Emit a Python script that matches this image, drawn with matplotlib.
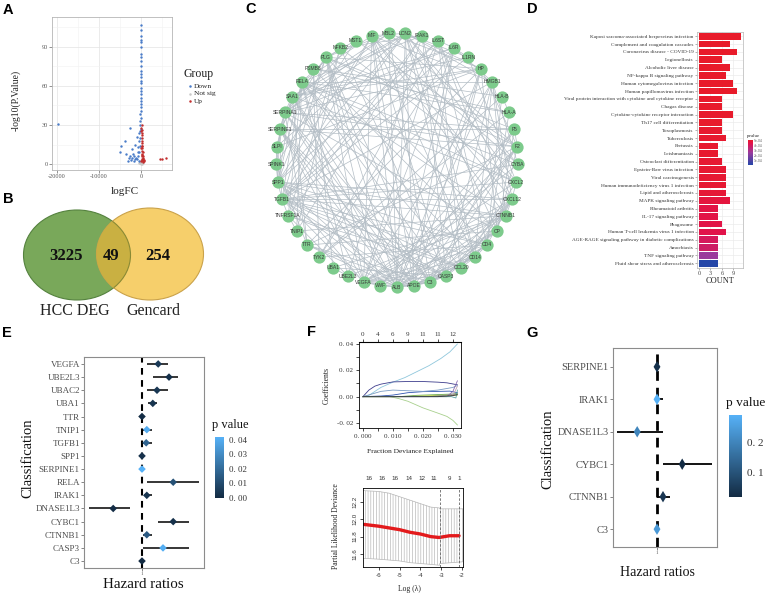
import numpy as np
import matplotlib
matplotlib.use('Agg')
import matplotlib.pyplot as plt
from matplotlib.patches import Ellipse
from matplotlib.colors import LinearSegmentedColormap, Normalize
from matplotlib.collections import LineCollection
import matplotlib.cm as cm

plt.rcParams['hatch.linewidth'] = 0.4
W, H = 767, 596
SERIF = ['Liberation Serif', 'DejaVu Serif']
SANS = ['Liberation Sans', 'DejaVu Sans']

# ---------------- data: A (volcano) ----------------
down_logfc = [-19700, -2500, -3700, -4700, -5000, -3500, -2100, -1700, -1300, -950, -2100, -2900,
              -1700, -1100, -800, -700, -550, -300, -300, -150, -100, -100, -80, -80, -60, -60,
              -50, -50, -40, -40, -30, -30, -20, -20, -200, -400, -600, -900, -1400, -2300, -2600,
              -3100, -250, -150, -100, -70, -60, -40, -90, -30, -100, -30, -70, -30, -60, -500, -350, -1900]
down_logp = [31, 28, 18, 13.5, 9, 7.5, 11.5, 6.4, 15, 20.5, 4.4, 4.4,
             2.6, 5, 9, 12.8, 23.6, 25.6, 33, 38.5, 43.6, 48.7, 53.8, 58.5, 62, 66.7,
             71.8, 75.6, 79.5, 84.6, 89.7, 93.6, 98.7, 107, 30, 18, 6, 3.5, 4, 3, 6,
             2, 14, 20, 27, 35, 41, 46, 51, 56, 64, 69, 82, 95, 103, 2, 9, 8]
up_logfc = [100, 150, 200, 250, 300, 120, 180, 220, 260, 140, 200, 160, 240, 120, 300, 400, 500,
            600, 350, 450, 700, 250, 380, 180, 100, 320, 550, 800, 4570, 5100, 5900]
up_logp = [2, 4, 6, 8, 10, 12, 14, 16, 18, 20, 22, 24, 26, 28, 3, 5, 2,
           4, 7, 9, 3, 12, 1.5, 30, 25, 14, 6, 2.5, 3.8, 4.1, 4.6]
ns_logfc = [-300, -150, 0, 100, 200, -500, 300, -50, 50, 400, -200, 150]
ns_logp = [1, 0.5, 0.3, 0.8, 1.2, 0.4, 0.6, 2, 1.5, 0.9, 2.5, 0.2]
volcano_xticks = [-20000, -10000, 0]
volcano_xticklabels = ['-20000', '-10000', '0']
volcano_yticks = [0, 30, 60, 90]
group_names = ['Down', 'Not sig', 'Up']
group_colors = ['#4a7cc9', '#c8c8c8', '#c22f2f']

# ---------------- data: B (venn) ----------------
venn_counts = ['3225', '49', '254']
venn_sets = ['HCC DEG', 'Gencard']

# ---------------- data: C (network) ----------------
net_nodes = ['ALB', 'APOE', 'C3', 'CASP3', 'CCL20', 'CD14', 'CD4', 'CP', 'CTNNB1', 'CXCL12', 'CXCL2',
             'CYBA', 'F2', 'F5', 'HLA-A', 'HLA-B', 'HMGB1', 'HP', 'IL1RN', 'IL6R', 'IL6ST', 'IRAK1',
             'LCN2', 'MBL2', 'MIF', 'MST1', 'NFKB2', 'PLG', 'PSMB8', 'RELA', 'SAA1', 'SERPINA1',
             'SERPINE1', 'SLPI', 'SPINK1', 'SPP1', 'TGFB1', 'TNFRSF1A', 'TNIP1', 'TTR', 'TYK2',
             'UBA1', 'UBE2L3', 'VEGFA', 'VWF']
net_edges = {
    'ALB': 'APOE C3 CASP3 CD14 CP CXCL12 F2 F5 HP LCN2 MBL2 PLG SAA1 SERPINA1 SERPINE1 SPP1 TGFB1 TTR VEGFA VWF HMGB1 IL6R CTNNB1 MIF',
    'APOE': 'C3 CASP3 CD14 CP HP IL6R LCN2 MIF PLG SAA1 SERPINA1 SERPINE1 TGFB1 TTR VEGFA F2 CD4',
    'C3': 'CASP3 CD14 CP CXCL12 F2 F5 HP MBL2 PLG SAA1 SERPINA1 SERPINE1 TTR VWF CD4',
    'CASP3': 'CTNNB1 CXCL12 HMGB1 MIF RELA SPP1 TGFB1 TNFRSF1A VEGFA IRAK1 NFKB2 CD4 UBA1',
    'CCL20': 'CD14 CXCL12 CXCL2 IL6ST RELA TGFB1 VEGFA LCN2 SPP1 TNFRSF1A',
    'CD14': 'CD4 CXCL12 HMGB1 IRAK1 LCN2 MIF RELA TGFB1 VEGFA',
    'CD4': 'CXCL12 HLA-A HLA-B IL6ST SPP1 TGFB1 VEGFA TYK2 PSMB8',
    'CP': 'F2 F5 HP PLG SERPINA1 TTR VWF LCN2',
    'CTNNB1': 'CXCL12 HMGB1 RELA SPP1 TGFB1 VEGFA MIF TNIP1 UBE2L3 UBA1 IL6ST',
    'CXCL12': 'CXCL2 HMGB1 MIF SPP1 TGFB1 VEGFA IL6ST',
    'CXCL2': 'IL1RN LCN2 RELA SAA1 TGFB1 VEGFA NFKB2',
    'CYBA': 'HMGB1 RELA TGFB1 VEGFA MIF LCN2',
    'F2': 'F5 HP PLG SERPINA1 SERPINE1 VWF MBL2 TTR',
    'F5': 'PLG SERPINE1 VWF SERPINA1',
    'HLA-A': 'HLA-B PSMB8 TYK2 RELA',
    'HLA-B': 'PSMB8 TYK2',
    'HMGB1': 'MIF RELA TGFB1 VEGFA IL6R LCN2',
    'HP': 'LCN2 MBL2 PLG SAA1 SERPINA1 TTR SLPI',
    'IL1RN': 'IL6R LCN2 SAA1 TGFB1',
    'IL6R': 'IL6ST TYK2 SERPINA1 SAA1 TGFB1 VEGFA',
    'IL6ST': 'TYK2 SPP1 TGFB1 VEGFA',
    'IRAK1': 'NFKB2 RELA TNIP1 TNFRSF1A UBE2L3',
    'LCN2': 'MIF SAA1 SERPINA1 SLPI SPP1 TGFB1',
    'MBL2': 'PLG SERPINA1 SAA1',
    'MIF': 'RELA TGFB1 VEGFA SPP1',
    'MST1': 'PLG SPINK1 SERPINA1 F2',
    'NFKB2': 'RELA TNFRSF1A TNIP1',
    'PLG': 'SERPINA1 SERPINE1 SPP1 TGFB1 VEGFA VWF',
    'PSMB8': 'TYK2 UBA1',
    'RELA': 'TGFB1 TNFRSF1A TNIP1 VEGFA UBE2L3 SPP1',
    'SAA1': 'SERPINA1 SLPI SPP1 TTR',
    'SERPINA1': 'SERPINE1 SLPI SPINK1 TTR',
    'SERPINE1': 'SPP1 TGFB1 VEGFA VWF',
    'SLPI': 'SPINK1 SPP1',
    'SPINK1': 'SPP1 TTR',
    'SPP1': 'TGFB1 VEGFA',
    'TGFB1': 'VEGFA TNFRSF1A',
    'TNFRSF1A': 'TNIP1 UBE2L3',
    'UBA1': 'UBE2L3',
    'VEGFA': 'VWF',
}

# ---------------- data: D (KEGG bars) ----------------
kegg_terms = ['Kaposi sarcoma-associated herpesvirus infection', 'Complement and coagulation cascades',
              'Coronavirus disease - COVID-19', 'Legionellosis', 'Alcoholic liver disease',
              'NF-kappa B signaling pathway', 'Human cytomegalovirus infection',
              'Human papillomavirus infection',
              'Viral protein interaction with cytokine and cytokine receptor', 'Chagas disease',
              'Cytokine-cytokine receptor interaction', 'Th17 cell differentiation', 'Toxoplasmosis',
              'Tuberculosis', 'Pertussis', 'Leishmaniasis', 'Osteoclast differentiation',
              'Epstein-Barr virus infection', 'Viral carcinogenesis',
              'Human immunodeficiency virus 1 infection', 'Lipid and atherosclerosis',
              'MAPK signaling pathway', 'Rheumatoid arthritis', 'IL-17 signaling pathway', 'Phagosome',
              'Human T-cell leukemia virus 1 infection',
              'AGE-RAGE signaling pathway in diabetic complications', 'Amoebiasis',
              'TNF signaling pathway', 'Fluid shear stress and atherosclerosis']
kegg_count = [11, 8, 10, 6, 8, 7, 9, 10, 6, 6, 9, 6, 6, 7, 5, 5, 6, 7, 7, 7, 7, 8, 5, 5, 6, 7, 5, 5, 5, 5]
kegg_pvalue_e4 = [5.0, 5.0, 5.0, 5.0, 5.0, 5.0, 5.0, 5.0, 4.95, 4.95, 4.95, 4.95, 4.9, 4.9, 4.9,
                  4.9, 4.85, 4.85, 4.8, 4.8, 4.75, 4.6, 4.45, 4.4, 4.4, 4.35, 4.0, 3.8, 2.6, 0.2]
kegg_xticks = [0, 3, 6, 9]
kegg_cbar_labels = ['1e-04', '2e-04', '3e-04', '4e-04', '5e-04']

# ---------------- data: E (univariate cox) ----------------
e_genes = ['VEGFA', 'UBE2L3', 'UBAC2', 'UBA1', 'TTR', 'TNIP1', 'TGFB1', 'SPP1', 'SERPINE1', 'RELA',
           'IRAK1', 'DNASE1L3', 'CYBC1', 'CTNNB1', 'CASP3', 'C3']
e_hr = [1.27, 1.45, 1.25, 1.18, 1.00, 1.08, 1.07, 1.00, 1.00, 1.52, 1.08, 0.52, 1.52, 1.08, 1.35, 1.00]
e_lo = [1.08, 1.18, 1.08, 1.10, 0.99, 1.02, 1.01, 0.99, 0.99, 1.08, 1.03, 0.12, 1.27, 1.02, 1.01, 0.99]
e_hi = [1.43, 1.60, 1.43, 1.25, 1.02, 1.17, 1.17, 1.01, 1.01, 1.95, 1.17, 0.80, 1.78, 1.17, 1.78, 1.01]
e_p = [0.005, 0.002, 0.004, 0.003, 0.001, 0.040, 0.018, 0.002, 0.042, 0.012, 0.003, 0.001, 0.002,
       0.015, 0.041, 0.0002]
e_cbar_ticks = [0.0, 0.01, 0.02, 0.03, 0.04]
e_cbar_labels = ['0. 00', '0. 01', '0. 02', '0. 03', '0. 04']

# ---------------- data: F (LASSO) ----------------
coef_paths = [
    ([0, 0.002, 0.004, 0.006, 0.008, 0.01, 0.014, 0.018, 0.022, 0.026, 0.029, 0.0315],
     [0, 0.001, 0.004, 0.007, 0.009, 0.011, 0.0145, 0.019, 0.0235, 0.029, 0.034, 0.040], '#8fc7dc'),
    ([0, 0.002, 0.004, 0.006, 0.01, 0.015, 0.02, 0.025, 0.028, 0.0315],
     [0, 0.005, 0.008, 0.0095, 0.0112, 0.0115, 0.0115, 0.011, 0.0105, 0.009], '#3c3c8c'),
    ([0, 0.009, 0.012, 0.015, 0.02, 0.025, 0.028, 0.03, 0.0315],
     [0, 0, -0.0015, -0.0035, -0.0085, -0.0125, -0.015, -0.018, -0.0215], '#a8d08d'),
    ([0, 0.006, 0.01, 0.015, 0.02, 0.025, 0.029, 0.0315],
     [0, 0.0005, 0.0012, 0.003, 0.0038, 0.004, 0.0042, 0.003], '#2f54b0'),
    ([0, 0.003, 0.006, 0.01, 0.015, 0.02, 0.025, 0.03, 0.0315],
     [0, 0.002, 0.004, 0.005, 0.0045, 0.004, 0.005, 0.007, 0.0085], '#7a9cc4'),
    ([0, 0.012, 0.018, 0.024, 0.03, 0.0315], [0, 0, 0.001, 0.0015, 0.002, 0.0025], '#6aa84f'),
    ([0, 0.014, 0.02, 0.026, 0.0315], [0, 0, 0.0005, 0.001, 0.0012], '#b5cf3a'),
    ([0, 0.022, 0.027, 0.0315], [0, 0, 0.001, 0.002], '#888888'),
    ([0, 0.028, 0.03, 0.0315], [0, 0, 0.004, 0.012], '#8a6bb0'),
    ([0, 0.029, 0.0305, 0.0315], [0, 0, 0.003, 0.008], '#c0a0b0'),
    ([0, 0.0295, 0.031, 0.0315], [0, 0, -0.001, 0.005], '#5aa0a0'),
    ([0, 0.025, 0.03, 0.0315], [0, 0, 0.0008, 0.0015], '#333333'),
]
coef_xticks = [0.0, 0.01, 0.02, 0.03]
coef_xticklabels = ['0. 000', '0. 010', '0. 020', '0. 030']
coef_yticks = [-0.02, 0.0, 0.02, 0.04]
coef_yticklabels = ['-0. 02', '0. 00', '0. 02', '0. 04']
coef_df_pos = [0, 0.005, 0.01, 0.015, 0.02, 0.025, 0.03]
coef_df_labels = ['0', '4', '6', '9', '11', '11', '12']

cv_lambda = [-6.7, -6.0, -5.5, -5.0, -4.5, -4.0, -3.5, -3.1, -2.6, -2.14]
cv_deviance = [11.94, 11.92, 11.90, 11.88, 11.85, 11.83, 11.80, 11.79, 11.81, 11.81]
band_lambda = [-6.76, -6.0, -5.5, -5.0, -4.5, -4.0, -3.5, -3.08, -3.07, -2.5, -1.95]
band_upper = [12.33, 12.32, 12.30, 12.26, 12.22, 12.18, 12.14, 12.13, 12.12, 12.12, 12.12]
band_lower = [11.55, 11.54, 11.53, 11.52, 11.50, 11.49, 11.48, 11.47, 11.49, 11.50, 11.51]
lambda_min, lambda_1se = -3.08, -2.14
cv_nz_pos = [-6.48, -5.86, -5.24, -4.57, -3.9, -3.38, -2.62, -2.14]
cv_nz_labels = ['16', '16', '16', '14', '12', '11', '9', '1']
cv_xticks = [-6, -5, -4, -3, -2]
cv_yticks = [11.6, 11.8, 12.0, 12.2]

# ---------------- data: G (multivariate cox) ----------------
g_genes = ['SERPINE1', 'IRAK1', 'DNASE1L3', 'CYBC1', 'CTNNB1', 'C3']
g_hr = [1.00, 1.00, 0.67, 1.42, 1.10, 1.00]
g_lo = [0.97, 0.97, 0.33, 1.10, 1.00, 0.99]
g_hi = [1.03, 1.10, 1.10, 1.92, 1.22, 1.01]
g_p = [0.03, 0.29, 0.20, 0.017, 0.04, 0.24]
g_cbar_ticks = [0.1, 0.2]
g_cbar_labels = ['0. 1', '0. 2']

# =====================================================
fig = plt.figure(figsize=(W / 100, H / 100), dpi=100)
fig.patch.set_facecolor('white')


def add_ax(l, t, r, b):
    return fig.add_axes([l / W, 1 - b / H, (r - l) / W, (b - t) / H])


gg_low, gg_high = '#132B43', '#56B1F7'
gg_cmap = LinearSegmentedColormap.from_list('gg', [gg_low, gg_high])

# ---------------- A ----------------
axA = add_ax(52, 17, 172, 170)
axA.scatter(ns_logfc, ns_logp, s=3, c=group_colors[1], lw=0, zorder=3)
axA.scatter(down_logfc, down_logp, s=3, c=group_colors[0], lw=0, zorder=3)
axA.scatter(up_logfc, up_logp, s=3, c=group_colors[2], lw=0, zorder=3)
axA.set_xlim(-21200, 7400)
axA.set_ylim(-4.6, 113)
axA.set_xticks(volcano_xticks)
axA.set_xticklabels(volcano_xticklabels)
axA.set_xticks([-15000, -5000, 5000], minor=True)
axA.set_yticks(volcano_yticks)
axA.set_yticks([15, 45, 75, 105], minor=True)
axA.grid(which='major', color='#e3e3e3', lw=0.5)
axA.grid(which='minor', color='#f2f2f2', lw=0.4)
axA.set_axisbelow(True)
for s in axA.spines.values():
    s.set_color('#b5b5b5')
    s.set_linewidth(0.6)
axA.tick_params(which='major', length=2, width=0.5, color='#666', labelsize=4.5, labelcolor='#555', pad=1)
axA.tick_params(which='minor', length=0)
for lab in axA.get_xticklabels() + axA.get_yticklabels():
    lab.set_family(SERIF)

# ---------------- B ----------------
axB = add_ax(0, 195, 230, 330)
axB.set_xlim(0, 230)
axB.set_ylim(330, 195)
axB.axis('off')
g_ell = Ellipse((77, 255), 107, 90, facecolor='#79a85a', edgecolor='#55823f', lw=0.8, zorder=1)
y_ell = Ellipse((150, 254), 107, 92, facecolor='#f6cf6b', edgecolor='#caa24a', lw=0.8, zorder=2)
axB.add_patch(g_ell)
axB.add_patch(y_ell)
ov_ell = Ellipse((77, 255), 107, 90, facecolor='#c9b042', edgecolor='#8a8a35', lw=0.8, zorder=3)
axB.add_patch(ov_ell)
ov_ell.set_clip_path(y_ell)
for (x, y), t in zip([(66, 256), (111, 256), (158, 256)], venn_counts):
    axB.text(x, y, t, ha='center', va='center', fontsize=12, fontweight='bold', family=SERIF,
             color='#111', zorder=5)
for x, t in zip([75, 153], venn_sets):
    axB.text(x, 311, t, ha='center', va='center', fontsize=11.5, family=SERIF, color='#222')

# ---------------- C ----------------
axC = add_ax(255, 20, 540, 300)
axC.set_xlim(255, 540)
axC.set_ylim(300, 20)
axC.axis('off')
n = len(net_nodes)
ang = np.deg2rad(-90 + 360.0 / n * np.arange(n))
cx, cy, rx, ry = 397, 160, 121, 127
px = cx + rx * np.cos(ang)
py = cy - ry * np.sin(ang)
pos = {nm: (px[i], py[i]) for i, nm in enumerate(net_nodes)}
segs = []
for a, nb in net_edges.items():
    for b in nb.split():
        segs.append([pos[a], pos[b]])
axC.add_collection(LineCollection(segs, colors='#b3bdc5', linewidths=0.5, zorder=1))
axC.scatter(px, py, s=78, c='#7dcb8c', lw=0, zorder=2)
for i, nm in enumerate(net_nodes):
    axC.text(px[i], py[i], nm, ha='center', va='center', fontsize=3.6, color='#3a3a3a',
             family=SANS, zorder=3)

# ---------------- D ----------------
axD = add_ax(697, 32, 743, 268)
d_cmap = LinearSegmentedColormap.from_list('d', [(0, '#2547a8'), (0.5, '#9b3a9c'),
                                                 (0.85, '#e0124e'), (1, '#e81b2a')])
d_norm = Normalize(min(kegg_pvalue_e4), max(kegg_pvalue_e4))
ypos = np.arange(len(kegg_terms))
axD.barh(ypos, kegg_count, height=0.85, color=d_cmap(d_norm(kegg_pvalue_e4)), zorder=3)
axD.set_ylim(len(kegg_terms) - 0.4, -0.55)
axD.set_xlim(-0.55, 11.55)
axD.set_yticks(ypos)
axD.set_yticklabels(kegg_terms, fontsize=3.8, family=SERIF, color='#333')
axD.set_xticks(kegg_xticks)
axD.set_xticklabels([str(v) for v in kegg_xticks], fontsize=4.5, family=SERIF, color='#444')
axD.tick_params(length=1.5, width=0.4, pad=1, color='#777')
axD.grid(color='#ebebeb', lw=0.5)
axD.set_axisbelow(True)
for s in axD.spines.values():
    s.set_color('#b5b5b5')
    s.set_linewidth(0.5)
caxD = add_ax(748, 140, 753, 165)
cbD = fig.colorbar(cm.ScalarMappable(norm=d_norm, cmap=d_cmap), cax=caxD)
cbD.outline.set_visible(False)
cbD.set_ticks(np.linspace(1.0, 5.0, 5))
cbD.set_ticklabels(kegg_cbar_labels)
caxD.tick_params(labelsize=2.2, length=0, pad=0.8, labelcolor='#555')

# ---------------- E ----------------
axE = add_ax(84, 357, 204, 568)
ye = np.arange(len(e_genes))
axE.axvline(1, color='black', lw=1.5, ls=(0, (3.2, 2.6)), zorder=1)
axE.hlines(ye, e_lo, e_hi, color='black', lw=1.1, zorder=2)
e_norm = Normalize(min(e_p), max(e_p))
axE.scatter(e_hr, ye, c=e_p, cmap=gg_cmap, norm=e_norm, marker='D', s=15, lw=0, zorder=3)
axE.set_ylim(len(e_genes) - 0.47, -0.53)
axE.set_xlim(1 - 58 / 60, 1 + 62 / 60)
axE.set_yticks(ye)
axE.set_yticklabels(e_genes, fontsize=6.5, family=SERIF, color='#4d4d4d')
axE.set_xticks([1])
axE.set_xticklabels(['1'], fontsize=3.5, family=SERIF, color='#4d4d4d')
axE.tick_params(length=2, width=0.5, color='#555', pad=1)
for s in axE.spines.values():
    s.set_color('#8c8c8c')
    s.set_linewidth(0.8)
caxE = add_ax(215, 437, 224, 498)
cbE = fig.colorbar(cm.ScalarMappable(norm=e_norm, cmap=gg_cmap), cax=caxE)
cbE.outline.set_visible(False)
cbE.set_ticks(e_cbar_ticks)
cbE.set_ticklabels(e_cbar_labels)
caxE.tick_params(labelsize=6.5, length=2, color='white', pad=1.5, labelcolor='#333')
for lab in caxE.get_yticklabels():
    lab.set_family(SERIF)

# ---------------- F top ----------------
axF1 = add_ax(359, 342, 461, 428)
for xs, ys, col in coef_paths:
    axF1.plot(xs, ys, color=col, lw=0.6)
axF1.set_xlim(-0.0013, 0.0327)
axF1.set_ylim(-0.0238, 0.0415)
axF1.set_xticks(coef_xticks)
axF1.set_xticklabels(coef_xticklabels)
axF1.set_xticks([0.005, 0.015, 0.025], minor=True)
axF1.set_yticks(coef_yticks)
axF1.set_yticklabels(coef_yticklabels)
axF1.set_yticks([-0.01, 0.01, 0.03], minor=True)
axF1.tick_params(which='both', length=2.5, width=0.5, labelsize=5, pad=1.5, labelcolor='#333')
for lab in axF1.get_xticklabels() + axF1.get_yticklabels():
    lab.set_family(SERIF)
for s in axF1.spines.values():
    s.set_linewidth(0.6)
topF = axF1.secondary_xaxis('top')
topF.set_xticks(coef_df_pos)
topF.set_xticklabels(coef_df_labels)
topF.tick_params(length=2, width=0.5, labelsize=5, pad=1.5, labelcolor='#333')
for lab in topF.get_xticklabels():
    lab.set_family(SERIF)

# ---------------- F bottom ----------------
axF2 = add_ax(363, 488, 463, 567)
axF2.fill_between(band_lambda, band_lower, band_upper, facecolor='none', edgecolor='#a9a9a9',
                  hatch='|' * 6, lw=0)
axF2.plot(band_lambda, band_upper, color='#b5b5b5', lw=0.5)
axF2.plot(band_lambda, band_lower, color='#b5b5b5', lw=0.5)
axF2.plot(cv_lambda, cv_deviance, color='#e31a1c', lw=2.4, solid_capstyle='round')
for lv in (lambda_min, lambda_1se):
    axF2.axvline(lv, color='#666', lw=0.6, ls=(0, (3, 2)))
axF2.set_xlim(-6.76, -1.95)
axF2.set_ylim(11.45, 12.36)
axF2.set_xticks(cv_xticks)
axF2.set_xticklabels([str(v) for v in cv_xticks], fontsize=4.5, family=SANS, color='#333')
axF2.set_yticks(cv_yticks)
axF2.set_yticklabels(['%.1f' % v for v in cv_yticks], fontsize=4.5, family=SANS, color='#333',
                     rotation=90, va='center')
axF2.tick_params(length=2.5, width=0.5, pad=1.5)
for s in axF2.spines.values():
    s.set_linewidth(0.6)
topF2 = axF2.secondary_xaxis('top')
topF2.set_xticks(cv_nz_pos)
topF2.set_xticklabels(cv_nz_labels, fontsize=4.5, family=SANS, color='#333')
topF2.tick_params(length=0, pad=5)
topF2.spines['top'].set_visible(False)

# ---------------- G ----------------
axG = add_ax(613, 348, 717, 547)
yg = np.arange(len(g_genes))
axG.axvline(1, color='black', lw=2.0, ls=(0, (3.5, 2.5)), zorder=1)
axG.hlines(yg, g_lo, g_hi, color='black', lw=1.3, zorder=2)
g_norm = Normalize(min(g_p), max(g_p))
axG.scatter(g_hr, yg, c=g_p, cmap=gg_cmap, norm=g_norm, marker='d', s=34, lw=0, zorder=3)
axG.set_ylim(len(g_genes) - 0.45, -0.58)
axG.set_xlim(1 - 44 / 60, 1 + 60 / 60)
axG.set_yticks(yg)
axG.set_yticklabels(g_genes, fontsize=7.5, family=SERIF, color='#4d4d4d')
axG.set_xticks([1])
axG.set_xticklabels(['1'], fontsize=3.5, family=SERIF, color='#4d4d4d')
axG.tick_params(length=2, width=0.5, color='#555', pad=1)
for s in axG.spines.values():
    s.set_color('#8c8c8c')
    s.set_linewidth(0.8)
caxG = add_ax(729, 415, 742, 497)
cbG = fig.colorbar(cm.ScalarMappable(norm=g_norm, cmap=gg_cmap), cax=caxG)
cbG.outline.set_visible(False)
cbG.set_ticks(g_cbar_ticks)
cbG.set_ticklabels(g_cbar_labels)
caxG.tick_params(labelsize=8, length=2, color='white', pad=1.5, labelcolor='#333')
for lab in caxG.get_yticklabels():
    lab.set_family(SERIF)

# ---------------- texts / overlay ----------------
ov = fig.add_axes([0, 0, 1, 1])
ov.set_xlim(0, W)
ov.set_ylim(H, 0)
ov.axis('off')
ov.patch.set_visible(False)

for lab, (x, y) in zip('ABCDEFG', [(8, 10), (8, 199), (251, 9), (532, 9), (7, 333), (311, 332), (532, 333)]):
    ov.text(x, y, lab, fontsize=10.5, fontweight='bold', family=SANS, ha='center', va='center')

# A labels and legend
ov.text(16, 100, '-log10(P.Value)', rotation=90, fontsize=7, family=SERIF, ha='center', va='center', color='#222')
ov.text(125, 192, 'logFC', fontsize=8, family=SERIF, ha='center', va='center', color='#222')
ov.text(183, 74, 'Group', fontsize=8.5, family=SERIF, ha='left', va='center', color='#222')
for i, (nm, col) in enumerate(zip(group_names, group_colors)):
    yy = 86 + 7.5 * i
    ov.plot([189.5], [yy], marker='o', ms=1.8, color=col, mew=0)
    ov.text(194, yy, nm, fontsize=5.3, family=SERIF, ha='left', va='center', color='#222')

# D labels
ov.text(720, 281, 'COUNT', fontsize=6, family=SERIF, ha='center', va='center', color='#222')
ov.text(747, 136.5, 'pvalue', fontsize=3.5, family=SERIF, ha='left', va='center', color='#222')

# E labels
ov.text(28, 458, 'Classification', rotation=90, fontsize=10.5, family=SERIF, ha='center', va='center', color='#111')
ov.text(143, 585, 'Hazard ratios', fontsize=10.8, family=SERIF, ha='center', va='center', color='#111')
ov.text(212, 425, 'p value', fontsize=9, family=SERIF, ha='left', va='center', color='#111')

# F labels
ov.text(327, 385, 'Coefficients', rotation=90, fontsize=5.5, family=SERIF, ha='center', va='center', color='#222')
ov.text(410, 451, 'Fraction Deviance Explained', fontsize=5.3, family=SERIF, ha='center', va='center', color='#222')
ov.text(336, 526, 'Partial Likelihood Deviance', rotation=90, fontsize=5.5, family=SERIF, ha='center', va='center', color='#222')
ov.text(409, 589, 'Log (\u03bb)', fontsize=5.5, family=SERIF, ha='center', va='center', color='#222')

# G labels
ov.text(548, 449, 'Classification', rotation=90, fontsize=10.5, family=SERIF, ha='center', va='center', color='#111')
ov.text(657, 573, 'Hazard ratios', fontsize=10, family=SERIF, ha='center', va='center', color='#111')
ov.text(726, 403, 'p value', fontsize=9.6, family=SERIF, ha='left', va='center', color='#111')

fig.savefig('out.png', dpi=100)
